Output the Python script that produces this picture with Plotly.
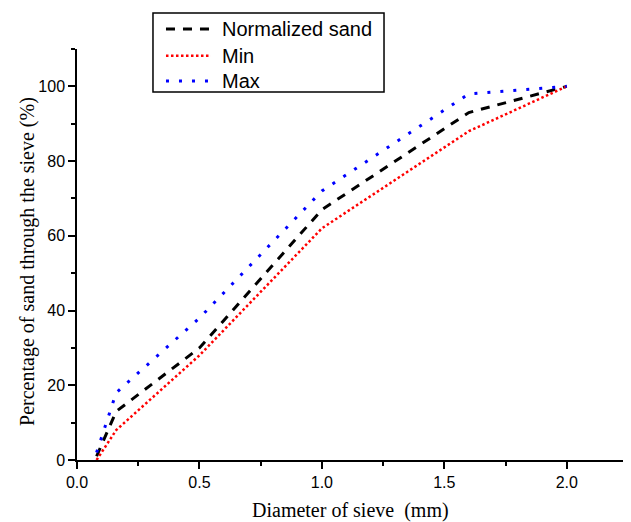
import plotly.graph_objects as go

sieve_mm = [0.08, 0.16, 0.5, 1.0, 1.6, 2.0]
normalized_sand = [1, 13, 30, 67, 93, 100]
min_pass = [0, 8, 28, 62, 88, 100]
max_pass = [2, 18, 38, 72, 98, 100]

series_names = ["Normalized sand", "Min", "Max"]

x_ticks = [0.0, 0.5, 1.0, 1.5, 2.0]
x_tick_text = ["0.0", "0.5", "1.0", "1.5", "2.0"]
y_ticks = [0, 20, 40, 60, 80, 100]
y_tick_text = ["0", "20", "40", "60", "80", "100"]

x_title = "Diameter of sieve  (mm)"
y_title = "Percentage of sand through the sieve (%)"

styles = [
    dict(color="black", width=3, dash="9px,8px"),
    dict(color="#ff0000", width=2.5, dash="2.5px,2.5px"),
    dict(color="#0000ff", width=3, dash="3px,10px"),
]

fig = go.Figure()
for name, ys, st in zip(series_names, [normalized_sand, min_pass, max_pass], styles):
    fig.add_trace(go.Scatter(x=sieve_mm, y=ys, mode="lines", name=name, line=st, showlegend=False))

tick_font = dict(family="Arial, Liberation Sans, sans-serif", size=16, color="black")
title_font = dict(family="Times New Roman, Liberation Serif, serif", size=20, color="black")
legend_font = dict(family="Arial, Liberation Sans, sans-serif", size=20, color="black")

axis_common = dict(showgrid=False, zeroline=False, showline=True, linecolor="black", linewidth=1.5,
                   ticks="outside", ticklen=7, tickwidth=1.5, tickcolor="black",
                   tickfont=tick_font, automargin=False)

# hand-drawn legend box (paper coordinates)
shapes = [dict(type="rect", xref="paper", yref="paper", x0=0.1379, x1=0.5572, y0=0.8954, y1=1.0876,
               line=dict(color="black", width=1.5), fillcolor="white", layer="above")]
annotations = []
row_y = [1.0487, 0.9837, 0.9221]
for name, st, yy in zip(series_names, styles, row_y):
    shapes.append(dict(type="line", xref="paper", yref="paper", x0=0.1615, x1=0.2432, y0=yy, y1=yy,
                       line=dict(color=st["color"], width=st["width"], dash=st["dash"]), layer="above"))
    annotations.append(dict(text=name, xref="paper", yref="paper", x=0.2595, y=yy,
                            xanchor="left", yanchor="middle", showarrow=False, font=legend_font))

annotations += [
    dict(text=x_title, xref="paper", yref="paper", x=0.4955, y=-0.124,
         xanchor="center", yanchor="middle", showarrow=False, font=title_font),
    dict(text=y_title, xref="paper", yref="paper", x=-0.0889, y=0.482,
         xanchor="center", yanchor="middle", textangle=-90, showarrow=False, font=title_font),
]

# page body has an 8px margin, so the figure is sized to fit inside 631x522
fig.update_layout(
    width=623, height=514,
    margin=dict(l=69, r=3, t=41, b=62),
    paper_bgcolor="white", plot_bgcolor="white",
    showlegend=False,
    xaxis=dict(range=[0, 2.25], tickvals=x_ticks, ticktext=x_tick_text,
               minor=dict(ticks="outside", ticklen=4, tickwidth=1.5, tickcolor="black", dtick=0.25, tick0=0, showgrid=False),
               **axis_common),
    yaxis=dict(range=[0, 110], tickvals=y_ticks, ticktext=y_tick_text,
               minor=dict(ticks="outside", ticklen=4, tickwidth=1.5, tickcolor="black", dtick=10, tick0=0, showgrid=False),
               **axis_common),
    shapes=shapes,
    annotations=annotations,
)

fig.write_html("out.html")
